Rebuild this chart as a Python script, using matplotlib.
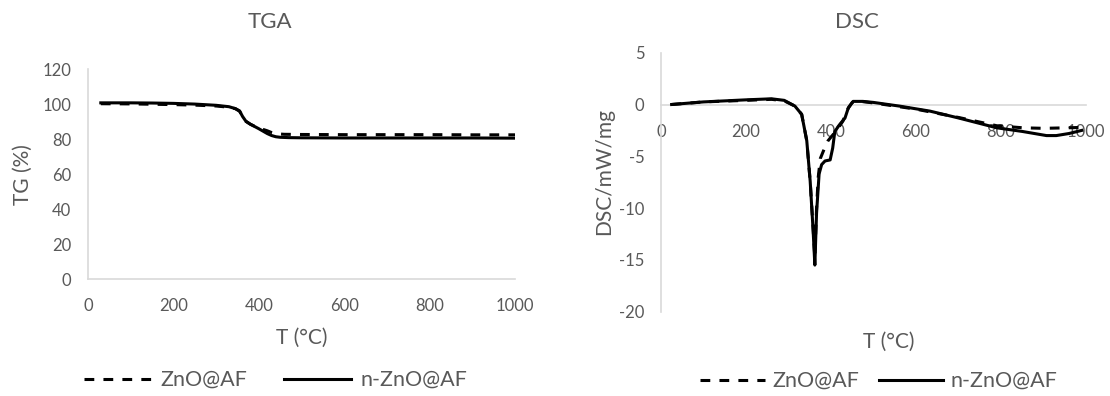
import matplotlib
matplotlib.use("Agg")
import matplotlib.pyplot as plt

plt.rcParams['font.family'] = ['Lato', 'DejaVu Sans']
plt.rcParams['axes.unicode_minus'] = False

TEXT = '#595959'
AXIS = '#D9D9D9'

series_names = ['ZnO@AF', 'n-ZnO@AF']

# Thermogravimetric curves (T in °C, mass in %)
tga_t_zno = [30, 100, 200, 250, 300, 330, 345, 355, 362, 370, 380, 390, 400,
             410, 420, 430, 440, 460, 500, 600, 700, 800, 900, 1000]
tga_w_zno = [100.3, 100.2, 99.8, 99.5, 99.0, 98.3, 97.5, 96.0, 93.0, 90.2,
             88.6, 87.4, 86.5, 85.6, 84.8, 83.8, 83.1, 82.8, 82.7, 82.6,
             82.6, 82.6, 82.5, 82.5]

tga_t_nzno = [30, 100, 150, 200, 250, 300, 330, 345, 355, 362, 370, 380, 390,
              400, 410, 420, 430, 440, 450, 470, 500, 600, 700, 800, 900, 1000]
tga_w_nzno = [100.8, 100.8, 100.7, 100.5, 100.1, 99.4, 98.6, 97.5, 96.2, 93.0,
              90.2, 88.6, 87.3, 86.0, 84.6, 83.2, 82.1, 81.4, 81.1, 80.9,
              80.8, 80.7, 80.7, 80.7, 80.7, 80.6]

# Heat-flow curves (T in °C, DSC in mW/mg)
dsc_t_zno = [25, 100, 200, 260, 290, 315, 331, 343, 351, 358, 362, 366, 370,
             375, 385, 393, 405, 415, 428, 440, 450, 470, 500, 600, 700,
             790, 852, 900, 955, 1000]
dsc_v_zno = [0.0, 0.25, 0.4, 0.5, 0.35, -0.15, -0.95, -3.5, -7.4, -12.0,
             -14.8, -10.0, -7.0, -5.2, -4.2, -3.5, -2.9, -2.4, -1.6, -0.4,
             0.2, 0.3, 0.15, -0.45, -1.25, -2.05, -2.25, -2.3, -2.25, -2.2]

dsc_t_nzno = [25, 100, 200, 260, 290, 315, 331, 343, 351, 358, 362, 366, 372,
              378, 386, 398, 404, 409, 421, 433, 441, 452, 475, 500, 562, 633,
              700, 790, 850, 907, 930, 960, 990]
dsc_v_nzno = [0.0, 0.25, 0.45, 0.55, 0.4, -0.15, -0.95, -3.5, -7.4, -12.2,
              -15.5, -10.5, -6.7, -5.8, -5.45, -5.35, -4.2, -2.6, -1.9, -1.3,
              -0.3, 0.3, 0.3, 0.2, -0.16, -0.64, -1.3, -2.25, -2.6, -3.0,
              -3.0, -2.8, -2.5]

x_ticks = [0, 200, 400, 600, 800, 1000]
tga_y_ticks = [0, 20, 40, 60, 80, 100, 120]
dsc_y_ticks = [5, 0, -5, -10, -15, -20]

fig = plt.figure(figsize=(11.1, 3.96), dpi=100)
W, H = 1110, 396


def box(x0, y0, x1, y1):
    return [x0 / W, 1 - y1 / H, (x1 - x0) / W, (y1 - y0) / H]


ax1 = fig.add_axes(box(88, 69.3, 515, 279))
ax2 = fig.add_axes(box(661, 52.7, 1086, 311.7))

LW = 2.2
dash = (0, (3.2, 3.0))

for ax in (ax1, ax2):
    for s in ('top', 'right'):
        ax.spines[s].set_visible(False)
    for s in ('left', 'bottom'):
        ax.spines[s].set_color(AXIS)
        ax.spines[s].set_linewidth(1.2)
    ax.tick_params(length=0, colors=TEXT, labelsize=12)
    ax.set_xlim(0, 1000)
    ax.set_xticks(x_ticks)
    ax.set_facecolor('none')

# TGA panel
ax1.plot(tga_t_zno, tga_w_zno, color='black', lw=LW, linestyle=dash,
         dash_capstyle='butt', zorder=3, label=series_names[0])
ax1.plot(tga_t_nzno, tga_w_nzno, color='black', lw=LW,
         solid_joinstyle='round', zorder=3, label=series_names[1])
ax1.set_ylim(0, 120)
ax1.set_yticks(tga_y_ticks)
ax1.tick_params(axis='y', pad=12)
ax1.tick_params(axis='x', pad=14)

# DSC panel
ax2.plot(dsc_t_zno, dsc_v_zno, color='black', lw=LW, linestyle=dash,
         dash_capstyle='butt', zorder=3, label=series_names[0])
ax2.plot(dsc_t_nzno, dsc_v_nzno, color='black', lw=LW,
         solid_joinstyle='round', zorder=3, label=series_names[1])
ax2.set_ylim(-20, 5)
ax2.set_yticks(dsc_y_ticks)
ax2.spines['bottom'].set_position(('data', 0))
ax2.tick_params(axis='y', pad=12)
ax2.tick_params(axis='x', pad=14)

# Titles and axis titles
fig.text(270 / W, 1 - 22 / H, 'TGA', ha='center', va='center', fontsize=16, color=TEXT)
fig.text(857 / W, 1 - 22 / H, 'DSC', ha='center', va='center', fontsize=16, color=TEXT)
fig.text(302 / W, 1 - 338 / H, 'T (°C)', ha='center', va='center', fontsize=15, color=TEXT)
fig.text(889 / W, 1 - 342 / H, 'T (°C)', ha='center', va='center', fontsize=15, color=TEXT)
fig.text(23 / W, 1 - 175 / H, 'TG (%)', ha='center', va='center', rotation=90,
         fontsize=15, color=TEXT)
fig.text(604 / W, 1 - 171 / H, 'DSC/mW/mg', ha='center', va='center', rotation=90,
         fontsize=15, color=TEXT)

# Legends under each panel
leg_kw = dict(loc='center', ncol=2, frameon=False, fontsize=15.5,
              labelcolor=TEXT, borderpad=0, handleheight=0.5)
fig.legend(*ax1.get_legend_handles_labels(), bbox_to_anchor=(275.5 / W, 1 - 380 / H),
           handlelength=3.1, handletextpad=0.45, columnspacing=1.7, **leg_kw)
fig.legend(*ax2.get_legend_handles_labels(), bbox_to_anchor=(879 / W, 1 - 381 / H),
           handlelength=3.0, handletextpad=0.35, columnspacing=0.9, **leg_kw)

fig.savefig('out.png', dpi=100, facecolor='white')
